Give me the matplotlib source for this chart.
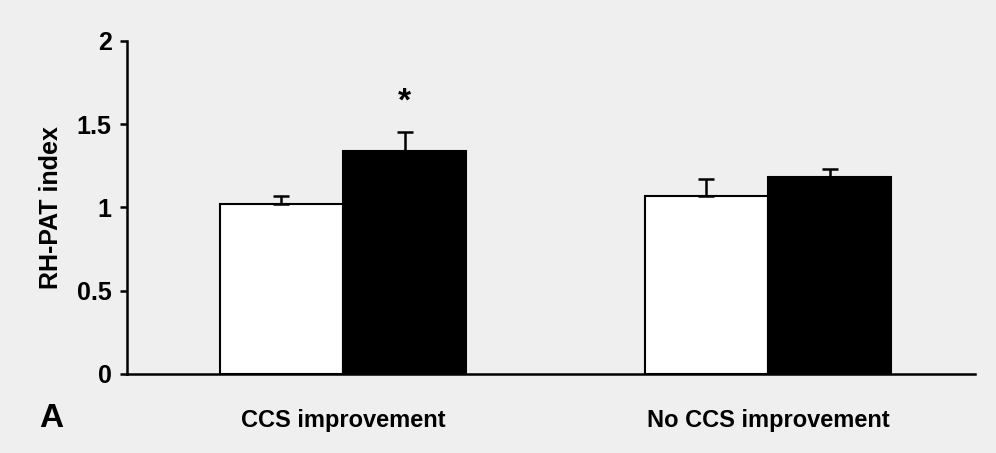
import matplotlib.pyplot as plt
import numpy as np

# data
groups = ["CCS improvement", "No CCS improvement"]
baseline = [1.02, 1.07]
baseline_err = [0.05, 0.10]
followup = [1.34, 1.18]
followup_err = [0.11, 0.05]

plt.rcParams['font.family'] = ['Liberation Sans', 'DejaVu Sans']
plt.rcParams['font.weight'] = 'bold'

fig = plt.figure(figsize=(9.96, 4.53), dpi=100, facecolor='#efefef')
ax = fig.add_axes([0.1275, 0.1744, 0.8515, 0.7356])
ax.set_facecolor('#efefef')

x = np.arange(len(groups))
w = 0.29
ekw = dict(elinewidth=1.8, capthick=1.8, ecolor='black')
ax.bar(x - w / 2, baseline, w, color='white', edgecolor='black', linewidth=1.5,
       yerr=[np.zeros(2), baseline_err], capsize=6, error_kw=ekw)
ax.bar(x + w / 2, followup, w, color='black', edgecolor='black', linewidth=1.5,
       yerr=[np.zeros(2), followup_err], capsize=6, error_kw=ekw)

# significance marker
ax.text(x[0] + w / 2, followup[0] + followup_err[0] + 0.18, '*', ha='center', va='center',
        fontsize=24, fontweight='bold')

ax.set_ylim(0, 2)
ax.set_xlim(-0.508, 1.487)
ax.set_yticks([0, 0.5, 1, 1.5, 2])
ax.set_yticklabels(['0', '0.5', '1', '1.5', '2'])
ax.set_xticks(x)
ax.set_xticklabels(groups)
ax.tick_params(axis='x', length=0, pad=25, labelsize=17)
ax.tick_params(axis='y', length=5, width=1.8, pad=6, labelsize=18)
for s in ['top', 'right']:
    ax.spines[s].set_visible(False)
ax.spines['left'].set_linewidth(1.8)
ax.spines['bottom'].set_linewidth(1.8)
ax.set_ylabel('RH-PAT index', fontsize=18, fontweight='bold', labelpad=10)

fig.text(0.051, 0.077, 'A', fontsize=24, fontweight='bold', ha='center', va='center')

fig.savefig('out.png', dpi=100, facecolor=fig.get_facecolor())
